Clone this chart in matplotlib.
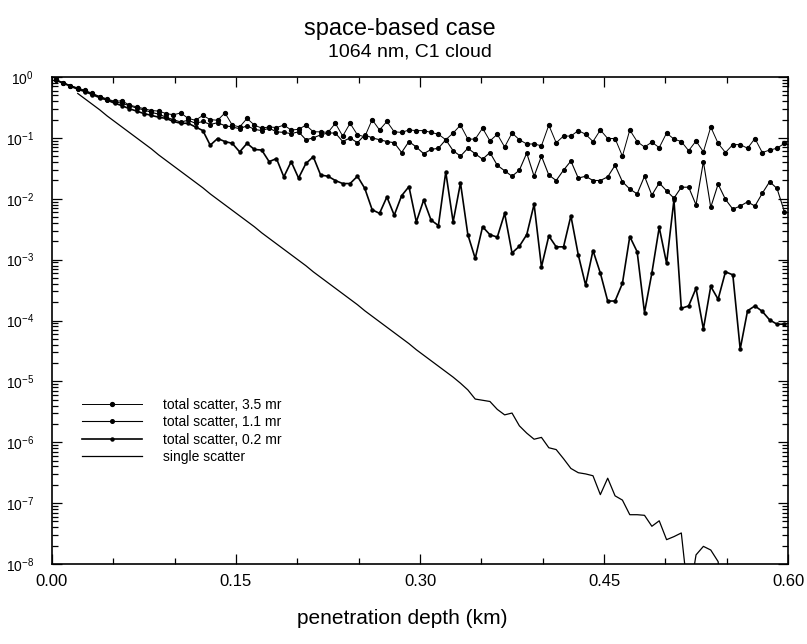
import numpy as np
import matplotlib
matplotlib.use("Agg")
import matplotlib.pyplot as plt
from matplotlib.ticker import LogLocator, FixedLocator, NullFormatter

plt.rcParams["font.family"] = ["Liberation Sans Narrow", "Liberation Sans", "DejaVu Sans"]
plt.rcParams["mathtext.fontset"] = "custom"
plt.rcParams["mathtext.rm"] = "Liberation Sans"
plt.rcParams["mathtext.it"] = "Liberation Sans"

# bin centres, 6 m bins (km)
depth = np.arange(0.003, 0.6, 0.006)

# log10 of normalised return
log_35mr = [-0.04, -0.09, -0.14, -0.18, -0.22, -0.27, -0.32, -0.36, -0.40, -0.39,
            -0.46, -0.49, -0.52, -0.55, -0.56, -0.60, -0.62, -0.59, -0.68, -0.71,
            -0.63, -0.70, -0.71, -0.59, -0.79, -0.82, -0.68, -0.79, -0.84, -0.82,
            -0.83, -0.79, -0.87, -0.86, -0.79, -0.90, -0.90, -0.91, -0.76, -0.97,
            -0.76, -0.95, -0.98, -0.70, -0.87, -0.73, -0.90, -0.91, -0.87, -0.88,
            -0.88, -0.91, -0.94, -1.03, -0.92, -0.79, -1.02, -1.02, -0.84, -1.05,
            -0.94, -1.15, -0.92, -1.03, -1.10, -1.10, -1.13, -0.79, -1.08, -0.97,
            -0.97, -0.88, -0.94, -1.06, -0.87, -1.01, -1.01, -1.30, -0.87, -1.06,
            -1.15, -1.07, -1.16, -0.92, -1.02, -1.06, -1.21, -1.05, -1.23, -0.82,
            -1.09, -1.24, -1.11, -1.11, -1.17, -1.01, -1.24, -1.20, -1.17, -1.09]

log_11mr = [-0.05, -0.10, -0.14, -0.19, -0.23, -0.28, -0.33, -0.37, -0.41, -0.43,
            -0.47, -0.51, -0.54, -0.58, -0.61, -0.66, -0.70, -0.74, -0.71, -0.76,
            -0.73, -0.78, -0.75, -0.80, -0.82, -0.85, -0.80, -0.86, -0.88, -0.84,
            -0.90, -0.91, -0.93, -0.90, -1.03, -1.00, -0.95, -0.92, -0.92, -1.06,
            -1.00, -1.08, -0.95, -1.00, -1.03, -1.06, -1.08, -1.24, -1.06, -1.15,
            -1.26, -1.19, -1.17, -1.03, -1.21, -1.30, -1.17, -1.26, -1.35, -1.24,
            -1.45, -1.54, -1.63, -1.53, -1.25, -1.63, -1.30, -1.61, -1.70, -1.53,
            -1.38, -1.66, -1.63, -1.70, -1.70, -1.64, -1.45, -1.72, -1.84, -1.92,
            -1.63, -1.94, -1.74, -1.87, -1.99, -1.81, -1.81, -2.10, -1.39, -2.14,
            -1.76, -2.01, -2.17, -2.12, -2.05, -2.12, -1.91, -1.72, -1.83, -2.21]

log_02mr = [-0.05, -0.10, -0.15, -0.20, -0.24, -0.29, -0.34, -0.38, -0.43, -0.47,
            -0.52, -0.56, -0.60, -0.63, -0.66, -0.68, -0.73, -0.76, -0.76, -0.82,
            -0.88, -1.12, -1.01, -1.06, -1.09, -1.23, -1.09, -1.19, -1.20, -1.39,
            -1.34, -1.64, -1.39, -1.66, -1.42, -1.31, -1.61, -1.63, -1.70, -1.75,
            -1.75, -1.63, -1.83, -2.18, -2.24, -1.97, -2.27, -1.95, -1.80, -2.38,
            -2.02, -2.35, -2.44, -1.56, -2.38, -1.74, -2.59, -2.98, -2.46, -2.59,
            -2.63, -2.24, -2.89, -2.78, -2.59, -2.09, -3.12, -2.61, -2.79, -2.79,
            -2.28, -2.92, -3.42, -2.85, -3.22, -3.68, -3.68, -3.39, -2.62, -2.87,
            -3.87, -3.22, -2.47, -3.06, -2.02, -3.80, -3.76, -3.47, -4.14, -3.44,
            -3.65, -3.20, -3.25, -4.47, -3.84, -3.76, -3.85, -3.99, -4.06, -4.06]

# single scatter starts at the 4th bin and drops out below 1e-8
log_single = [-0.27, -0.36, -0.45, -0.54, -0.64, -0.73, -0.82, -0.91, -1.00, -1.09,
              -1.18, -1.28, -1.37, -1.46, -1.55, -1.64, -1.73, -1.82, -1.92, -2.01,
              -2.10, -2.19, -2.28, -2.37, -2.46, -2.56, -2.65, -2.74, -2.83, -2.92,
              -3.01, -3.10, -3.20, -3.29, -3.38, -3.47, -3.56, -3.65, -3.74, -3.84,
              -3.93, -4.02, -4.11, -4.20, -4.29, -4.38, -4.48, -4.57, -4.66, -4.75,
              -4.84, -4.93, -5.03, -5.14, -5.29, -5.31, -5.33, -5.46, -5.55, -5.52,
              -5.73, -5.85, -5.95, -5.92, -6.09, -6.12, -6.27, -6.43, -6.50, -6.52,
              -6.55, -6.86, -6.59, -6.88, -6.95, -7.19, -7.19, -7.20, -7.38, -7.29,
              -7.60, -7.55, -7.49, -8.60, -7.85, -7.71, -7.77, -7.96, -9.00]
depth_single = depth[3:3 + len(log_single)]

labels = ["total scatter, 3.5 mr", "total scatter, 1.1 mr",
          "total scatter, 0.2 mr", "single scatter"]

fig = plt.figure(figsize=(8.07, 6.44), dpi=100)
ax = fig.add_axes([0.0644, 0.1242, 0.9121, 0.7562])

ax.plot(depth, 10.0 ** np.array(log_35mr), color="k", lw=0.7, marker="o", ms=2.8,
        label=labels[0])
ax.plot(depth, 10.0 ** np.array(log_11mr), color="k", lw=0.8, marker="o", ms=2.6,
        label=labels[1])
ax.plot(depth, 10.0 ** np.array(log_02mr), color="k", lw=1.2, marker="o", ms=2.2,
        label=labels[2])
ax.plot(depth_single, 10.0 ** np.array(log_single), color="k", lw=0.9,
        label=labels[3])

ax.set_yscale("log")
ax.set_xlim(0.0, 0.6)
ax.set_ylim(1e-8, 1.0)

ax.xaxis.set_major_locator(FixedLocator([0.0, 0.15, 0.30, 0.45, 0.60]))
ax.xaxis.set_minor_locator(FixedLocator(np.arange(0.05, 0.6, 0.05)))
ax.set_xticklabels(["0.00", "0.15", "0.30", "0.45", "0.60"])
ax.yaxis.set_major_locator(LogLocator(base=10, numticks=12))
ax.yaxis.set_minor_locator(LogLocator(base=10, subs=np.arange(2, 10), numticks=12))
ax.yaxis.set_minor_formatter(NullFormatter())
ax.set_yticks([10.0 ** e for e in range(-8, 1)])
ax.set_yticklabels([r"$10^{%d}$" % e for e in range(-8, 1)])

ax.tick_params(which="both", direction="in", top=True, right=True, width=0.9)
ax.tick_params(which="major", length=7)
ax.tick_params(which="minor", length=4)
ax.tick_params(axis="x", labelsize=12, pad=7)
ax.tick_params(axis="y", labelsize=10, pad=13)
for s in ax.spines.values():
    s.set_linewidth(1.2)

leg = ax.legend(loc="lower left", bbox_to_anchor=(0.041, 0.205), frameon=False,
                fontsize=10, handlelength=4.3, handletextpad=1.5, labelspacing=0.25,
                borderpad=0, borderaxespad=0)

fig.text(0.496, 0.955, "space-based case", ha="center", va="center", fontsize=17)
fig.text(0.508, 0.920, "1064 nm, C1 cloud", ha="center", va="center", fontsize=14)
fig.text(0.498, 0.040, "penetration depth (km)", ha="center", va="center", fontsize=15)

fig.savefig("out.png", dpi=100)
